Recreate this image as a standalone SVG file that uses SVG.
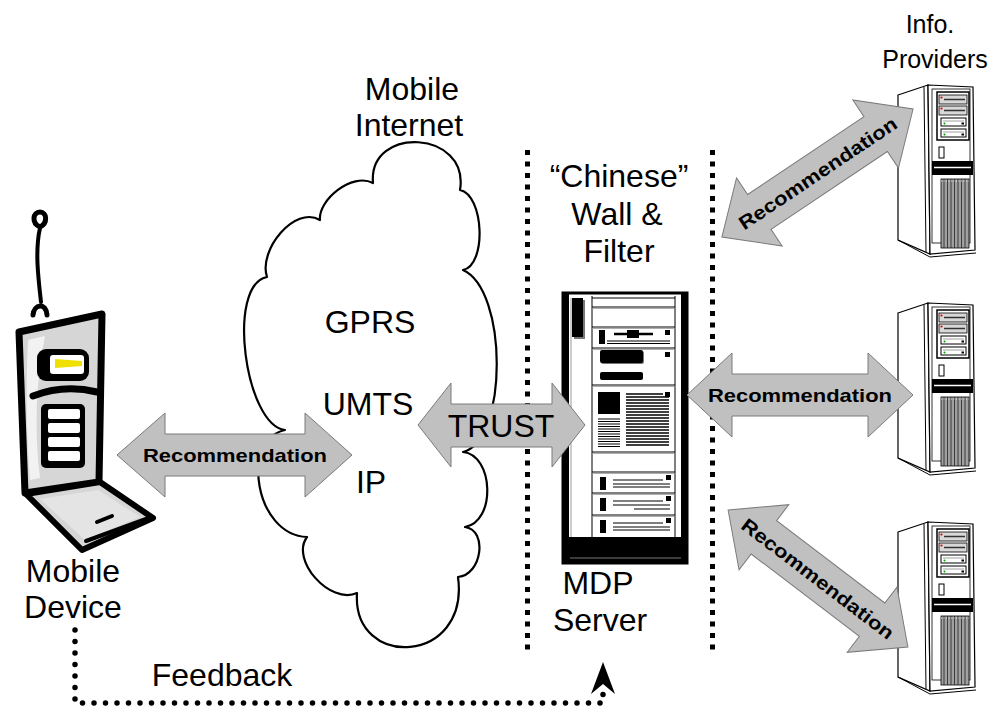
<svg xmlns="http://www.w3.org/2000/svg" xmlns:xlink="http://www.w3.org/1999/xlink" width="993" height="711" viewBox="0 0 993 711">
  <style>
    text { font-family: "Liberation Sans", Arial, sans-serif; fill: #000; }
    .lbl { font-size: 32px; text-anchor: middle; }
    .small { font-size: 25px; text-anchor: middle; }
    .rec { font-size: 19px; font-weight: bold; text-anchor: middle; }
    .arrow { fill: #c0c0c0; stroke: #7a7a7a; stroke-width: 1; stroke-linejoin: miter; }
    .wall { stroke: #000; stroke-width: 5; stroke-dasharray: 5 6.5; fill: none; }
    .feedback { stroke: #000; stroke-width: 5.5; stroke-dasharray: 0 11.5; stroke-linecap: round; fill: none; }
    .ink { stroke: #000; stroke-linecap: round; stroke-linejoin: round; }
    .thin { stroke: #000; stroke-width: 1; fill: none; }
  </style>
  <defs>
    <!-- tower server used for each information provider -->
    <g id="tower">
      <path d="M1,13 L31,3 L33,172 L1,158 Z" fill="#fff" stroke="#000" stroke-width="1.2"/>
      <path d="M27,5 L29,170" class="thin" stroke-width="0.8"/>
      <path d="M1,158 L33,175 L79,171" class="thin"/>
      <path d="M31,3 L76,5 L78,168 L33,172 Z" fill="#fff" stroke="#000" stroke-width="1.2"/>
      <rect x="35" y="7" width="38" height="154" fill="none" stroke="#000" stroke-width="0.8"/>
      <rect x="40" y="10" width="32" height="48" fill="#fff" stroke="#000" stroke-width="1.5"/>
      <rect x="42" y="13" width="28" height="9" fill="#d8d8d8" stroke="#000" stroke-width="0.8"/>
      <path d="M47,17.5 H68" stroke="#333" stroke-width="1.5"/>
      <circle cx="44.5" cy="15.5" r="1.1" fill="#e00000"/>
      <rect x="42" y="24" width="28" height="9" fill="#d8d8d8" stroke="#000" stroke-width="0.8"/>
      <path d="M47,28.5 H68" stroke="#333" stroke-width="1.5"/>
      <circle cx="44.5" cy="26.5" r="1.1" fill="#e00000"/>
      <rect x="44" y="36" width="25" height="8" fill="#fff" stroke="#000" stroke-width="1"/>
      <path d="M46,39 H67" stroke="#888" stroke-width="0.8"/>
      <circle cx="47.5" cy="41.5" r="1" fill="#00a000"/>
      <rect x="64.5" y="40.5" width="2.5" height="2" fill="#000"/>
      <rect x="44" y="47" width="25" height="8" fill="#fff" stroke="#000" stroke-width="1"/>
      <path d="M46,50 H67" stroke="#888" stroke-width="0.8"/>
      <circle cx="47.5" cy="52.5" r="1" fill="#00a000"/>
      <rect x="64.5" y="51.5" width="2.5" height="2" fill="#000"/>
      <rect x="42" y="65" width="5" height="11" fill="#fff" stroke="#000" stroke-width="1"/>
      <rect x="35" y="79" width="41" height="14" fill="#000"/>
      <path d="M37,85.5 H74" stroke="#fff" stroke-width="1.3"/>
      <rect x="44" y="97" width="28" height="69" fill="#a0a0a0" stroke="#000" stroke-width="0.8"/>
      <path d="M47,97 V166 M50.5,97 V166 M54,97 V166 M57.5,97 V166 M61,97 V166 M64.5,97 V166 M68,97 V166" stroke="#222" stroke-width="0.8"/>
      <path d="M44,99 H72" stroke="#fff" stroke-width="0.8" stroke-dasharray="1 1.5"/>
    </g>
  </defs>

  <rect width="993" height="711" fill="#fff"/>

  <!-- mobile internet cloud -->
  <g id="mobile-internet">
    <path d="M373,183 C368,125 470,130 460,190 C484,195 487,265 463,270 C508,290 508,440 463,452 C494,455 496,522 465,527 C488,530 482,575 458,577 C470,665 352,670 357,593 C330,605 290,560 307,537 C255,535 240,440 285,430 C245,425 226,285 267,277 C258,250 295,205 320,220 C318,200 352,172 373,183 Z" fill="#fff" stroke="#000" stroke-width="2.2" stroke-linejoin="round"/>
    <text class="lbl" x="412" y="100">Mobile</text>
    <text class="lbl" x="409" y="136">Internet</text>
    <text class="lbl" x="370" y="333">GPRS</text>
    <text class="lbl" x="368" y="415">UMTS</text>
    <text class="lbl" x="371" y="493">IP</text>
  </g>

  <!-- "Chinese" wall: two dotted barriers -->
  <g id="chinese-wall">
    <path class="wall" d="M527.5,150 V650"/>
    <path class="wall" d="M712.5,150 V650"/>
    <text class="lbl" x="619" y="187">“Chinese”</text>
    <text class="lbl" x="617" y="225">Wall &amp;</text>
    <text class="lbl" x="619" y="262">Filter</text>
  </g>

  <!-- mobile device -->
  <g id="mobile-device">
    <path class="ink" d="M40,228 C35,250 38,276 41,302" fill="none" stroke-width="4"/>
    <path class="ink" d="M40,227 C31,223 33,212 40,212 C47,212 48,223 40,227 Z" fill="#fff" stroke-width="5"/>
    <path class="ink" d="M33,315 C34,304 46,302 47,315" fill="none" stroke-width="5"/>
    <path class="ink" d="M19,332 L102,314 L99,482 L25,493 Z" fill="#d6d6d6" stroke-width="7"/>
    <path d="M28,340 L45,336 C36,380 34,430 40,478 L30,480 C26,430 26,380 28,340 Z" fill="#f2f2f2"/>
    <rect x="37" y="349" width="52" height="32" rx="9" fill="#000"/>
    <rect x="50" y="355" width="34" height="19" rx="3" fill="#fff"/>
    <path d="M55,359 L82,361 L82,366 L55,368 Z" fill="#f0e000"/>
    <path class="ink" d="M33,396 Q64,384 97,392" fill="none" stroke-width="7"/>
    <rect x="41" y="404" width="44" height="64" rx="5" fill="#000"/>
    <rect x="48" y="409" width="32" height="10" rx="2" fill="#fff"/>
    <rect x="48" y="423" width="32" height="10" rx="2" fill="#fff"/>
    <rect x="48" y="437" width="32" height="10" rx="2" fill="#fff"/>
    <rect x="48" y="451" width="32" height="10" rx="2" fill="#fff"/>
    <path class="ink" d="M26,494 L100,482 L153,518 L82,550 Z" fill="#d6d6d6" stroke-width="6"/>
    <path d="M40,499 L98,490 L140,517 L85,540 Z" fill="#e4e4e4"/>
    <path class="ink" d="M97,522 L112,516" stroke-width="4"/>
    <path class="ink" d="M86,541 L146,519" stroke-width="4"/>
    <text class="lbl" x="73" y="582">Mobile</text>
    <text class="lbl" x="73" y="618">Device</text>
  </g>

  <!-- MDP server rack -->
  <g id="mdp-server">
    <rect x="563" y="293" width="124" height="270" fill="#fff" stroke="#000" stroke-width="3"/>
    <rect x="563" y="293" width="6" height="270" fill="#000"/>
    <rect x="681" y="293" width="6" height="270" fill="#000"/>
    <rect x="563" y="537" width="124" height="26" fill="#000"/>
    <path d="M570,558 H681" stroke="#777" stroke-width="1.2"/>
    <path d="M571,298 V537" stroke="#999" stroke-width="1"/>
    <path d="M592,296 V537 M675,296 V537" class="thin"/>
    <rect x="574" y="300" width="11" height="39" fill="#777"/>
    <rect x="572" y="298" width="11" height="39" fill="#000"/>
    <path d="M592,298 H675 M592,307 H675 M592,327 H675 M592,348 H675 M592,385 H675 M592,452 H675 M592,472 H675 M592,493 H675 M592,515 H675" class="thin" stroke-width="1.3"/>
    <path d="M592,308.5 H675 M592,328.5 H675 M592,349.5 H675 M592,386.5 H675 M592,453.5 H675 M592,473.5 H675 M592,494.5 H675 M592,516.5 H675" stroke="#999" stroke-width="0.8"/>
    <!-- slider bay -->
    <rect x="599" y="330" width="6" height="14" fill="#000"/>
    <path d="M614,334 H653" stroke="#000" stroke-width="2.5"/>
    <rect x="627" y="330" width="12" height="8" fill="#000"/>
    <path d="M607,341 H670 M607,343.5 H670" stroke="#000" stroke-width="1"/>
    <rect x="665" y="330" width="5" height="5" fill="#000"/>
    <!-- bar bay -->
    <rect x="601" y="351" width="43" height="13" rx="2" fill="#777"/>
    <rect x="600" y="350" width="43" height="13" rx="2" fill="#000"/>
    <rect x="600" y="372" width="43" height="8" rx="2" fill="#000"/>
    <rect x="665" y="352" width="5" height="5" fill="#000"/>
    <!-- large bay -->
    <rect x="598" y="392" width="22" height="22" fill="#000"/>
    <path d="M598,419 H620 M598,421.5 H620 M598,424 H620 M598,426.5 H620 M598,429 H620 M598,431.5 H620 M598,434 H620 M598,436.5 H620 M598,439 H620 M598,441.5 H620 M598,444 H620 M598,446.5 H620" stroke="#000" stroke-width="1.2"/>
    <path d="M626,394 H663 M626,397 H669 M626,400 H669 M626,403 H669 M626,406 H669 M626,409 H669 M626,412 H669 M626,415 H669 M626,418 H669 M626,421 H669 M626,424 H669 M626,427 H669 M626,430 H669 M626,433 H669 M626,436 H669 M626,439 H669 M626,442 H669 M626,445 H669" stroke="#000" stroke-width="1.3"/>
    <rect x="665" y="392" width="5" height="5" fill="#000"/>
    <!-- three small bays -->
    <rect x="600" y="477" width="6" height="13" fill="#000"/>
    <path d="M613,480 H663 M613,484 H670 M613,487 H670" stroke="#000" stroke-width="1.2"/>
    <rect x="666" y="475" width="5" height="5" fill="#000"/>
    <rect x="600" y="498" width="6" height="13" fill="#000"/>
    <path d="M613,501 H663 M613,505 H670 M634,509 H670" stroke="#000" stroke-width="1.2"/>
    <rect x="666" y="496" width="5" height="5" fill="#000"/>
    <rect x="600" y="520" width="6" height="13" fill="#000"/>
    <path d="M613,523 H663 M613,527 H670 M613,530 H670" stroke="#000" stroke-width="1.2"/>
    <rect x="666" y="518" width="5" height="5" fill="#000"/>
    <text class="lbl" x="598" y="594">MDP</text>
    <text class="lbl" x="600" y="631">Server</text>
  </g>

  <!-- information providers -->
  <g id="info-providers-label">
    <text class="small" x="930" y="33">Info.</text>
    <text class="small" x="935" y="68">Providers</text>
  </g>
  <g id="provider-1"><use xlink:href="#tower" x="897" y="82"/></g>
  <g id="provider-2"><use xlink:href="#tower" x="897" y="300"/></g>
  <g id="provider-3"><use xlink:href="#tower" x="897" y="519"/></g>

  <!-- connectors -->
  <g id="connectors">
    <g id="device-internet">
      <path class="arrow" d="M117,455 L165,413 L165,434 L305,434 L305,413 L352,455 L305,497 L305,476 L165,476 L165,497 Z"/>
      <text class="rec" x="235" y="462" textLength="184" lengthAdjust="spacingAndGlyphs">Recommendation</text>
    </g>
    <g id="internet-mdp">
      <path class="arrow" d="M418,425 L451,383 L451,404 L552,404 L552,383 L585,425 L552,467 L552,447 L451,447 L451,467 Z"/>
      <text class="lbl" x="501" y="437">TRUST</text>
    </g>
    <g id="mdp-provider-1" transform="translate(817.5,173) rotate(-33.8)">
      <path class="arrow" d="M-115,0 L-70,-41 L-70,-21 L70,-21 L70,-41 L115,0 L70,41 L70,21 L-70,21 L-70,41 Z"/>
      <text class="rec" x="0" y="7" textLength="186" lengthAdjust="spacingAndGlyphs">Recommendation</text>
    </g>
    <g id="mdp-provider-2">
      <path class="arrow" d="M687,395 L732,353 L732,374 L868,374 L868,353 L913,395 L868,437 L868,416 L732,416 L732,437 Z"/>
      <text class="rec" x="800" y="402" textLength="184" lengthAdjust="spacingAndGlyphs">Recommendation</text>
    </g>
    <g id="mdp-provider-3" transform="translate(818,578.5) rotate(37.3)">
      <path class="arrow" d="M-113,0 L-68,-41 L-68,-21 L68,-21 L68,-41 L113,0 L68,41 L68,21 L-68,21 L-68,41 Z"/>
      <text class="rec" x="0" y="7" textLength="186" lengthAdjust="spacingAndGlyphs">Recommendation</text>
    </g>
    <g id="feedback">
      <path class="feedback" d="M75,630 V703 H603 V686"/>
      <path d="M603,662 L615,694 L603,684 L591,694 Z" fill="#000"/>
      <text class="lbl" x="222" y="686">Feedback</text>
    </g>
  </g>
</svg>
